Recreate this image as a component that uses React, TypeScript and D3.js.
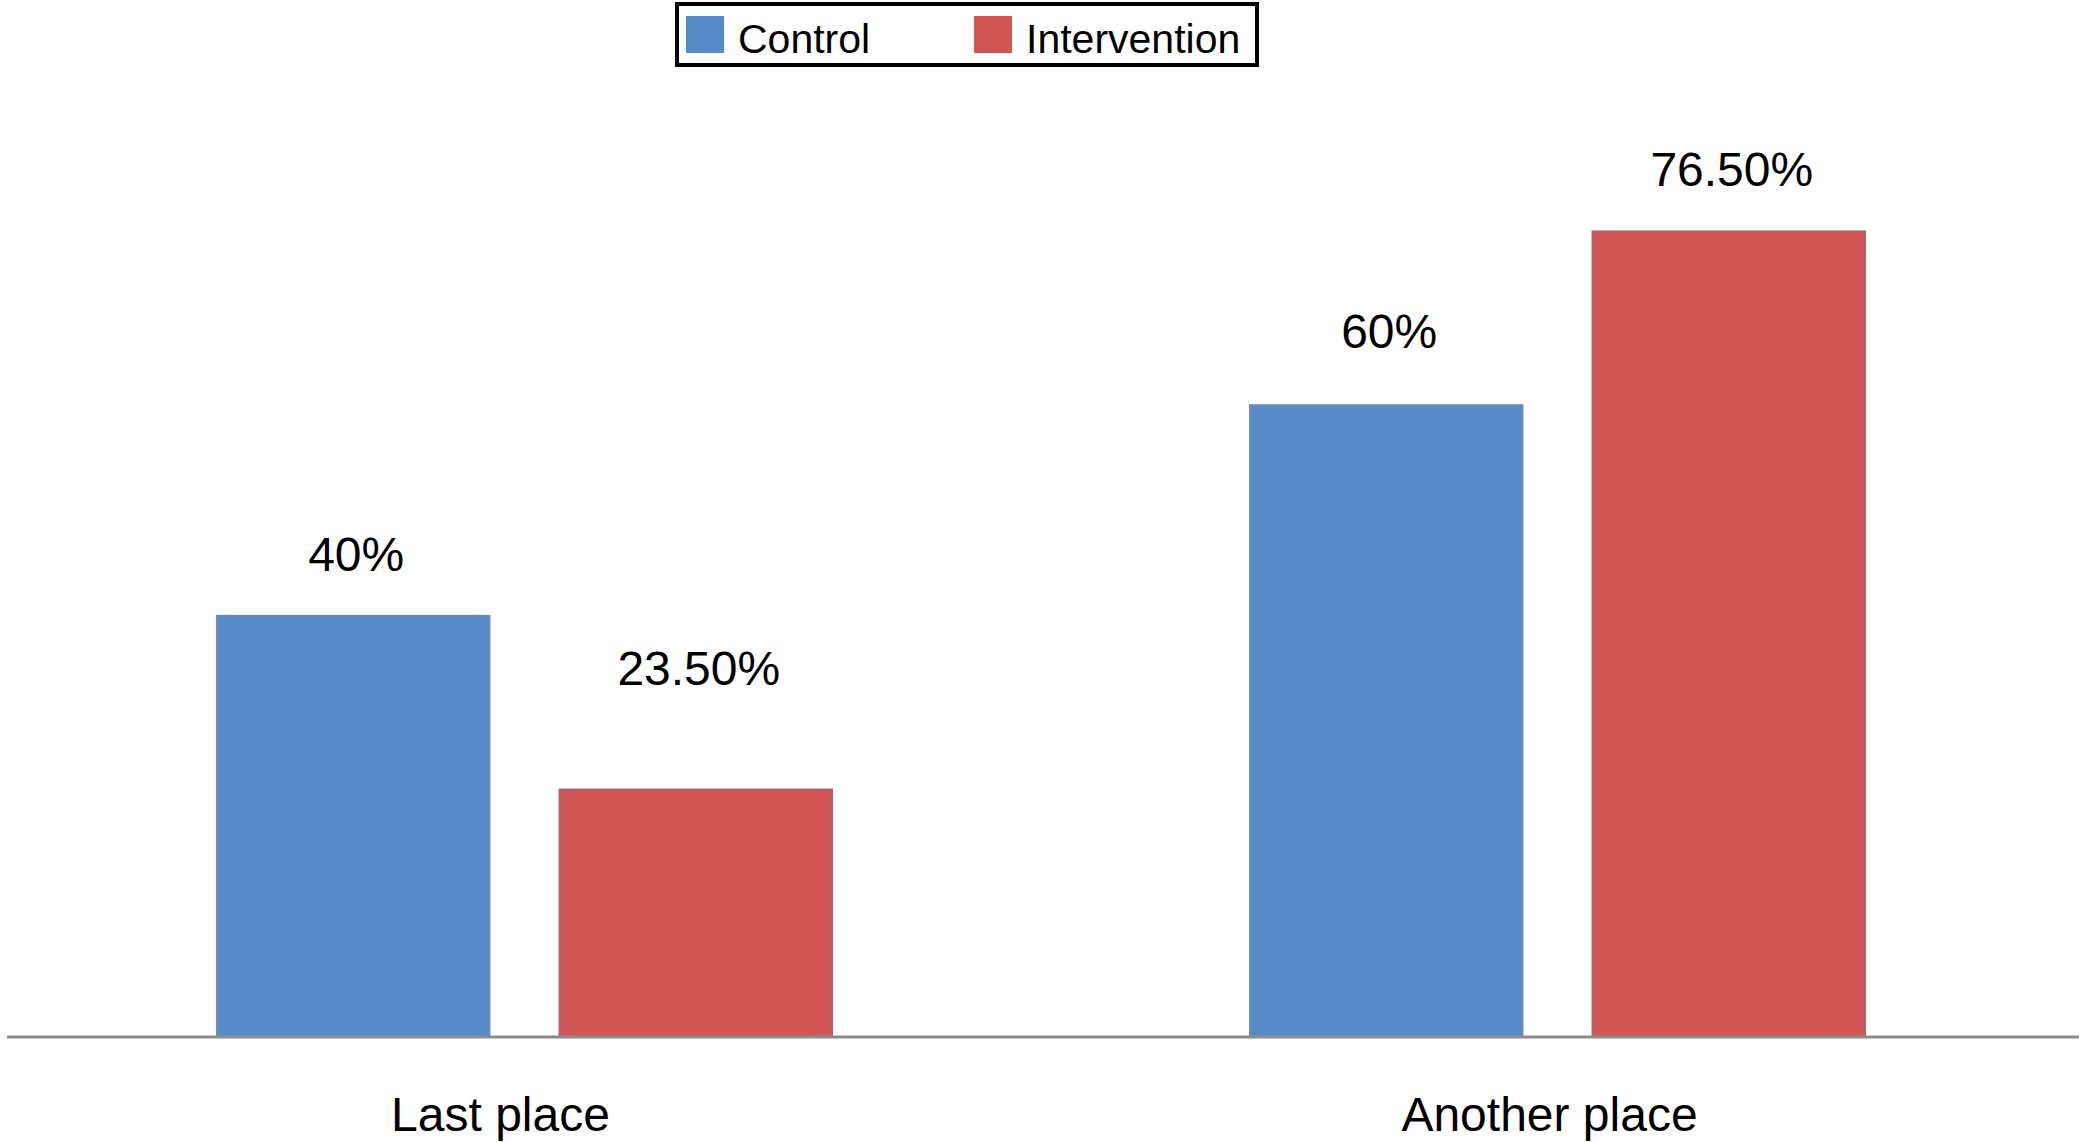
import * as d3 from "d3";
import React, { useEffect, useRef } from "react";

const categories = ["Last place", "Another place"];
const seriesNames = ["Control", "Intervention"];
const controlValues = [40, 60];
const interventionValues = [23.5, 76.5];
const valueLabels = [
  ["40%", "23.50%"],
  ["60%", "76.50%"],
];
// extra lift of each value label above its bar (hand placed in the original)
const labelLift = [
  [45, 105],
  [57, 45],
];
const catShift = [-24, -8];

const colors = ["#578bc8", "#d05656"];
const strokes = ["#6a8db0", "#b2626a"];

function drawChart(node: SVGSVGElement) {
  const width = 2083,
    height = 1142;
  const svg = d3.select(node);
  svg.selectAll("*").remove();
  svg.attr("width", width).attr("height", height);

  const baseY = 1037;
  const x0 = d3.scaleBand().domain(categories).range([8, 2074]).padding(0);
  const x1 = d3
    .scaleBand()
    .domain(seriesNames)
    .range([0, x0.bandwidth()])
    .paddingInner(0.2046)
    .paddingOuter(0.61);
  const y = d3.scaleLinear().domain([0, 100]).range([baseY, baseY - 1053]);

  const rows = categories.map((c, i) => ({
    cat: c,
    vals: [controlValues[i], interventionValues[i]],
  }));

  const g = svg.append("g");

  // bars
  const groups = g
    .selectAll("g.grp")
    .data(rows)
    .join("g")
    .attr("class", "grp")
    .attr("transform", d => `translate(${x0(d.cat)},0)`);

  groups
    .selectAll("rect")
    .data(d => d.vals.map((v, j) => ({ v, j })))
    .join("rect")
    .attr("x", d => x1(seriesNames[d.j])!)
    .attr("y", d => y(d.v))
    .attr("width", x1.bandwidth())
    .attr("height", d => baseY - y(d.v))
    .attr("fill", d => colors[d.j])
    .attr("stroke", d => strokes[d.j])
    .attr("stroke-width", 2);

  // value labels
  groups
    .selectAll("text.val")
    .data((d, i) => d.vals.map((v, j) => ({ v, j, i })))
    .join("text")
    .attr("class", "val")
    .attr("x", d => x1(seriesNames[d.j])! + x1.bandwidth() / 2 + 3)
    .attr("y", d => y(d.v) - labelLift[d.i][d.j])
    .attr("text-anchor", "middle")
    .style("font-family", "'Liberation Sans', Arial, sans-serif")
    .style("font-size", "48px")
    .attr("fill", "#000")
    .text(d => valueLabels[d.i][d.j]);

  // baseline axis
  g.append("line")
    .attr("x1", 7)
    .attr("x2", 2079)
    .attr("y1", baseY)
    .attr("y2", baseY)
    .attr("stroke", "#8c8c8c")
    .attr("stroke-width", 3);

  // category labels
  g.selectAll("text.cat")
    .data(categories)
    .join("text")
    .attr("class", "cat")
    .attr("x", (d, i) => x0(d)! + x0.bandwidth() / 2 + catShift[i])
    .attr("y", 1131)
    .attr("text-anchor", "middle")
    .style("font-family", "'Liberation Sans', Arial, sans-serif")
    .style("font-size", "48px")
    .attr("fill", "#000")
    .text(d => d);

  // legend
  const legend = svg.append("g");
  legend
    .append("rect")
    .attr("x", 677)
    .attr("y", 4)
    .attr("width", 580)
    .attr("height", 61)
    .attr("fill", "#fff")
    .attr("stroke", "#000")
    .attr("stroke-width", 4);

  const legendX = [686, 974];
  seriesNames.forEach((s, i) => {
    legend
      .append("rect")
      .attr("x", legendX[i])
      .attr("y", 16)
      .attr("width", 38)
      .attr("height", 37)
      .attr("fill", colors[i]);
    legend
      .append("text")
      .attr("x", legendX[i] + 52)
      .attr("y", 53)
      .style("font-family", "'Liberation Sans', Arial, sans-serif")
      .style("font-size", "41px")
      .attr("fill", "#000")
      .text(s);
  });
}

export default function App() {
  const ref = useRef<SVGSVGElement>(null);
  useEffect(() => {
    if (ref.current) drawChart(ref.current);
  }, []);
  return (
    <svg
      ref={ref}
      style={{ position: "absolute", left: 0, top: 0, background: "#fff" }}
    />
  );
}
